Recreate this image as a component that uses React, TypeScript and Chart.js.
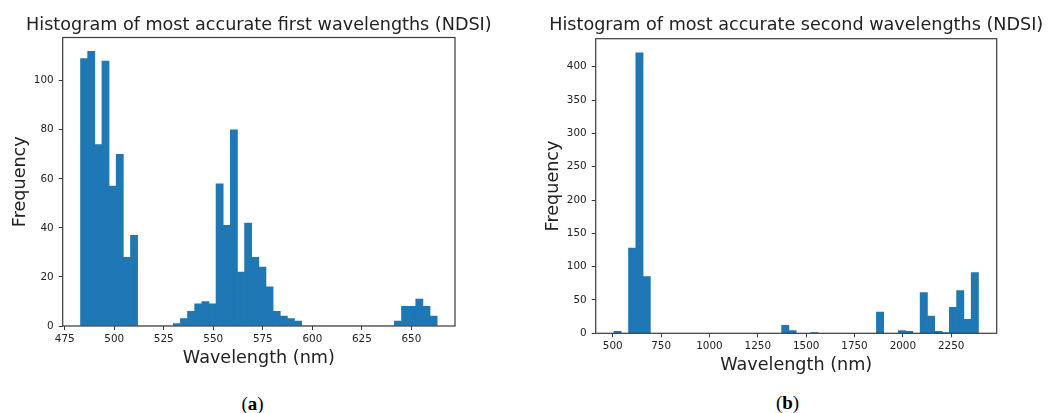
import React, { useEffect, useRef } from "react";
import { Chart, registerables } from "chart.js";

Chart.register(...registerables);

// Panel (a): most accurate first wavelengths, 50 equal bins
const FIRST_BIN_START = 483;
const FIRST_BIN_END = 663;
const FIRST_COUNTS = [
  109, 112, 74, 108, 57, 70, 28, 37,
  0, 0, 0, 0, 0,
  1, 3, 6, 9, 10, 9, 58, 41, 80, 22, 42, 28, 24, 16, 6, 4, 3, 2,
  0, 0, 0, 0, 0, 0, 0, 0, 0, 0, 0, 0, 0,
  2, 8, 8, 11, 8, 4,
];
const FIRST_X_TICKS = [475, 500, 525, 550, 575, 600, 625, 650];
const FIRST_Y_TICKS = [0, 20, 40, 60, 80, 100];

// Panel (b): most accurate second wavelengths, 50 equal bins
const SECOND_BIN_START = 506;
const SECOND_BIN_END = 2391;
const SECOND_COUNTS = [
  3, 0, 128, 421, 85,
  0, 0, 0, 0, 0, 0, 0, 0, 0, 0, 0, 0, 0, 0, 0, 0, 0, 0,
  12, 4, 0, 0, 1,
  0, 0, 0, 0, 0, 0, 0, 0,
  32, 0, 0, 4, 3, 0,
  61, 26, 3, 1, 39, 64, 21, 91,
];
const SECOND_X_TICKS = [500, 750, 1000, 1250, 1500, 1750, 2000, 2250];
const SECOND_Y_TICKS = [0, 50, 100, 150, 200, 250, 300, 350, 400];

const BAR_COLOR = "#1f77b4";
const AXIS_COLOR = "#3a3a3a";
const TEXT_COLOR = "#222222";
const FONT = "'DejaVu Sans', sans-serif";
const LABEL_SIZE = 17.6;
const TICK_SIZE = 10.4;

type PanelSpec = {
  title: string;
  binStart: number;
  binEnd: number;
  counts: number[];
  xTicks: number[];
  yTicks: number[];
  left: number;
  width: number;
  height: number;
  padRight: number;
  padTop: number;
  titleY: number;
  yAxisWidth: number;
  xAxisHeight: number;
  xTitlePad: number;
};

// Draws the matplotlib-style box around the plot area.
const framePlugin = {
  id: "frame",
  afterDraw(chart: any) {
    const { ctx, chartArea } = chart;
    ctx.save();
    ctx.strokeStyle = AXIS_COLOR;
    ctx.lineWidth = 1.2;
    ctx.strokeRect(
      chartArea.left,
      chartArea.top,
      chartArea.right - chartArea.left,
      chartArea.bottom - chartArea.top
    );
    ctx.restore();
  },
};

// Title centred over the plot area rather than the whole canvas.
function makeTitlePlugin(text: string, y: number) {
  return {
    id: "panelTitle",
    afterDraw(chart: any) {
      const { ctx, chartArea } = chart;
      ctx.save();
      ctx.font = `${LABEL_SIZE}px ${FONT}`;
      ctx.fillStyle = TEXT_COLOR;
      ctx.textAlign = "center";
      ctx.textBaseline = "middle";
      ctx.fillText(text, (chartArea.left + chartArea.right) / 2, y);
      ctx.restore();
    },
  };
}

function HistogramPanel({ spec }: { spec: PanelSpec }) {
  const ref = useRef<HTMLCanvasElement | null>(null);

  useEffect(() => {
    if (!ref.current) return;
    const n = spec.counts.length;
    const binWidth = (spec.binEnd - spec.binStart) / n;
    const span = spec.binEnd - spec.binStart;
    const xMin = spec.binStart - span * 0.05;
    const xMax = spec.binEnd + span * 0.05;
    const yMax = Math.max(...spec.counts) * 1.05;
    const points = spec.counts.map((c, i) => ({
      x: spec.binStart + (i + 0.5) * binWidth,
      y: c,
    }));

    const tickFont = { family: FONT, size: TICK_SIZE };
    const labelFont = { family: FONT, size: LABEL_SIZE };

    const chart = new Chart(ref.current, {
      type: "bar",
      data: {
        datasets: [
          {
            data: points as any,
            backgroundColor: BAR_COLOR,
            borderWidth: 0,
            barPercentage: 1,
            categoryPercentage: 1,
            grouped: false,
          },
        ],
      },
      options: {
        responsive: false,
        animation: false,
        events: [],
        layout: {
          padding: { left: 0, right: spec.padRight, top: spec.padTop, bottom: 0 },
        },
        plugins: {
          legend: { display: false },
          tooltip: { enabled: false },
          title: { display: false },
        },
        scales: {
          x: {
            type: "linear",
            min: xMin,
            max: xMax,
            offset: false,
            grid: {
              display: true,
              offset: false,
              drawOnChartArea: false,
              drawTicks: true,
              tickLength: 4,
              color: AXIS_COLOR,
            },
            border: { display: false },
            ticks: {
              font: tickFont,
              color: TEXT_COLOR,
              padding: 3,
              maxRotation: 0,
              autoSkip: false,
              callback: (v: any) => String(v),
            },
            afterBuildTicks: (s: any) => {
              s.ticks = spec.xTicks.map((v) => ({ value: v }));
            },
            afterFit: (s: any) => {
              s.height = spec.xAxisHeight;
            },
            title: {
              display: true,
              text: "Wavelength (nm)",
              font: labelFont,
              color: TEXT_COLOR,
              padding: { top: 0, bottom: spec.xTitlePad },
            },
          },
          y: {
            type: "linear",
            min: 0,
            max: yMax,
            grid: {
              display: true,
              drawOnChartArea: false,
              drawTicks: true,
              tickLength: 4,
              color: AXIS_COLOR,
            },
            border: { display: false },
            ticks: {
              font: tickFont,
              color: TEXT_COLOR,
              padding: 5,
              autoSkip: false,
              callback: (v: any) => String(v),
            },
            afterBuildTicks: (s: any) => {
              s.ticks = spec.yTicks.map((v) => ({ value: v }));
            },
            afterFit: (s: any) => {
              s.width = spec.yAxisWidth;
            },
            title: {
              display: true,
              text: "Frequency",
              font: labelFont,
              color: TEXT_COLOR,
              padding: { top: 9.5, bottom: 0 },
            },
          },
        },
      } as any,
      plugins: [framePlugin, makeTitlePlugin(spec.title, spec.titleY)],
    });

    return () => chart.destroy();
  }, [spec]);

  return (
    <canvas
      ref={ref}
      width={spec.width}
      height={spec.height}
      style={{
        position: "absolute",
        left: spec.left,
        top: 0,
        width: spec.width,
        height: spec.height,
      }}
    />
  );
}

const PANEL_A: PanelSpec = {
  title: "Histogram of most accurate first wavelengths (NDSI)",
  binStart: FIRST_BIN_START,
  binEnd: FIRST_BIN_END,
  counts: FIRST_COUNTS,
  xTicks: FIRST_X_TICKS,
  yTicks: FIRST_Y_TICKS,
  left: 0,
  width: 500,
  height: 371,
  padRight: 45,
  padTop: 37.5,
  titleY: 25,
  yAxisWidth: 62.7,
  xAxisHeight: 45,
  xTitlePad: 2.3,
};

const PANEL_B: PanelSpec = {
  title: "Histogram of most accurate second wavelengths (NDSI)",
  binStart: SECOND_BIN_START,
  binEnd: SECOND_BIN_END,
  counts: SECOND_COUNTS,
  xTicks: SECOND_X_TICKS,
  yTicks: SECOND_Y_TICKS,
  left: 533,
  width: 516,
  height: 378,
  padRight: 52.3,
  padTop: 38.7,
  titleY: 25.3,
  yAxisWidth: 62.7,
  xAxisHeight: 44.7,
  xTitlePad: 2.4,
};

const captionStyle: React.CSSProperties = {
  position: "absolute",
  width: 80,
  height: 20,
  lineHeight: "20px",
  fontFamily: "'Liberation Serif', 'DejaVu Serif', serif",
  fontSize: 19,
  color: "#000",
  textAlign: "center",
};

export default function App() {
  return (
    <div
      style={{
        position: "absolute",
        left: 0,
        top: 0,
        width: 1049,
        height: 413,
        background: "#fff",
        overflow: "hidden",
      }}
    >
      <HistogramPanel spec={PANEL_A} />
      <HistogramPanel spec={PANEL_B} />
      <div style={{ ...captionStyle, left: 252.5 - 40, top: 394 }}>
        (<b>a</b>)
      </div>
      <div style={{ ...captionStyle, left: 787.5 - 40, top: 393 }}>
        (<b>b</b>)
      </div>
    </div>
  );
}
